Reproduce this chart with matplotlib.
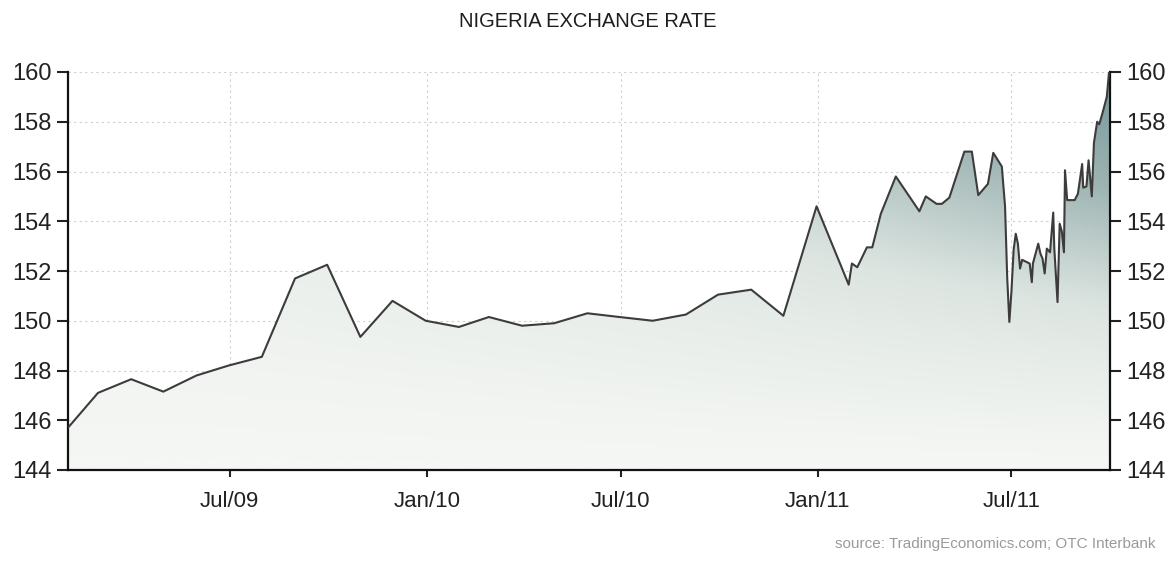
import numpy as np
import pandas as pd
import matplotlib
matplotlib.use('Agg')
import matplotlib.pyplot as plt
import matplotlib.dates as mdates
from matplotlib.colors import LinearSegmentedColormap

# monthly fixings, Jan 2009 - Dec 2010
monthly_dates = ['2009-01-31', '2009-02-28', '2009-03-31', '2009-04-30', '2009-05-31', '2009-06-30',
                 '2009-07-31', '2009-08-31', '2009-09-30', '2009-10-31', '2009-11-30', '2009-12-31',
                 '2010-01-31', '2010-02-28', '2010-03-31', '2010-04-30', '2010-05-31', '2010-06-30',
                 '2010-07-31', '2010-08-31', '2010-09-30', '2010-10-31', '2010-11-30', '2010-12-31']
monthly_rate = [145.7, 147.1, 147.65, 147.15, 147.8, 148.2,
                148.55, 151.7, 152.25, 149.35, 150.8, 150.0,
                149.75, 150.15, 149.8, 149.9, 150.3, 150.15,
                150.0, 150.25, 151.05, 151.25, 150.2, 154.6]

# denser quotes during 2011
daily_dates = ['2011-01-30', '2011-02-02', '2011-02-07', '2011-02-16', '2011-02-21', '2011-03-01',
               '2011-03-15', '2011-04-06', '2011-04-12', '2011-04-22', '2011-04-27', '2011-05-04',
               '2011-05-18', '2011-05-25', '2011-05-31', '2011-06-09', '2011-06-14', '2011-06-22',
               '2011-06-25', '2011-06-27', '2011-06-29', '2011-07-01', '2011-07-03', '2011-07-05',
               '2011-07-07', '2011-07-09', '2011-07-11', '2011-07-18', '2011-07-20', '2011-07-21',
               '2011-07-26', '2011-07-28', '2011-07-30', '2011-08-01', '2011-08-03', '2011-08-06',
               '2011-08-09', '2011-08-10', '2011-08-13', '2011-08-15', '2011-08-17', '2011-08-19',
               '2011-08-20', '2011-08-22', '2011-08-29', '2011-09-01', '2011-09-05', '2011-09-06',
               '2011-09-09', '2011-09-11', '2011-09-14', '2011-09-16', '2011-09-19', '2011-09-21',
               '2011-09-24', '2011-09-28', '2011-09-30']
daily_rate = [151.45, 152.3, 152.15, 152.95, 152.95, 154.3,
              155.8, 154.4, 155.0, 154.7, 154.7, 154.95,
              156.8, 156.8, 155.05, 155.5, 156.75, 156.2,
              154.6, 151.75, 149.95, 151.2, 152.85, 153.5,
              153.1, 152.1, 152.45, 152.3, 151.55, 152.3,
              153.1, 152.7, 152.5, 151.9, 152.9, 152.75,
              154.35, 152.9, 150.75, 153.9, 153.6, 152.75,
              156.05, 154.85, 154.85, 155.1, 156.3, 155.35,
              155.4, 156.45, 155.0, 157.15, 158.0, 157.9,
              158.35, 159.0, 159.95]

y_ticks = [144, 146, 148, 150, 152, 154, 156, 158, 160]
x_ticks = ['2009-07-01', '2010-01-01', '2010-07-01', '2011-01-01', '2011-07-01']
x_tick_labels = ['Jul/09', 'Jan/10', 'Jul/10', 'Jan/11', 'Jul/11']

plt.rcParams['font.family'] = ['Liberation Sans', 'DejaVu Sans']

dates = pd.to_datetime(monthly_dates + daily_dates)
rate = np.array(monthly_rate + daily_rate)
xnum = mdates.date2num(dates)

x0 = mdates.date2num(pd.Timestamp('2009-01-31'))
x1 = mdates.date2num(pd.Timestamp('2011-10-01'))
ymin, ymax = 144, 160

fig = plt.figure(figsize=(11.75, 5.65), dpi=100)
ax = fig.add_axes([68 / 1175, 95 / 565, (1110 - 68) / 1175, (470 - 72) / 565])

# shaded area: darker toward upper right
nx, ny = 400, 200
gx = np.linspace(0, 1, nx)
gy = np.linspace(0, 1, ny)
GX, GY = np.meshgrid(gx, gy)
shade = np.clip(GY ** 1.2 * (0.25 + 0.75 * GX ** 1.5), 0, 1)
cmap = LinearSegmentedColormap.from_list('fill', ['#f5f7f4', '#dde5e1', '#9db4b3', '#779798'])
img = ax.imshow(shade, extent=[x0, x1, ymin, ymax], origin='lower', aspect='auto',
                cmap=cmap, vmin=0, vmax=1, zorder=1)
poly = ax.fill_between(xnum, rate, ymin, color='none', lw=0)
clip = poly.get_paths()[0]
img.set_clip_path(clip, transform=ax.transData)

ax.plot(xnum, rate, color='#3c3c3c', lw=1.5, zorder=3)

ax.set_xlim(x0, x1)
ax.set_ylim(ymin, ymax)
ax.set_yticks(y_ticks)
ax.set_xticks(mdates.date2num(pd.to_datetime(x_ticks)))
ax.set_xticklabels(x_tick_labels)

ax.grid(True, color='#cfcfcf', linestyle=(0, (2, 3)), lw=0.8, zorder=0)
ax.set_axisbelow(True)

for side in ['left', 'right', 'bottom']:
    ax.spines[side].set_color('#111111')
    ax.spines[side].set_linewidth(1.6)
ax.spines['top'].set_visible(False)

ax.tick_params(axis='y', which='both', left=True, right=True, labelleft=True, labelright=True,
               direction='out', length=8, width=1.5, labelsize=17, colors='#222222', pad=4)
ax.tick_params(axis='x', direction='out', length=5, width=1.5, labelsize=16, colors='#222222', pad=10)

fig.text(0.5, 0.962, 'NIGERIA EXCHANGE RATE', ha='center', va='center',
         fontsize=14.5, color='#1e1e1e')
fig.text(0.983, 0.024, 'source: TradingEconomics.com; OTC Interbank', ha='right', va='bottom',
         fontsize=11, color='#9a9a9a')

fig.savefig('out.png', dpi=100)
